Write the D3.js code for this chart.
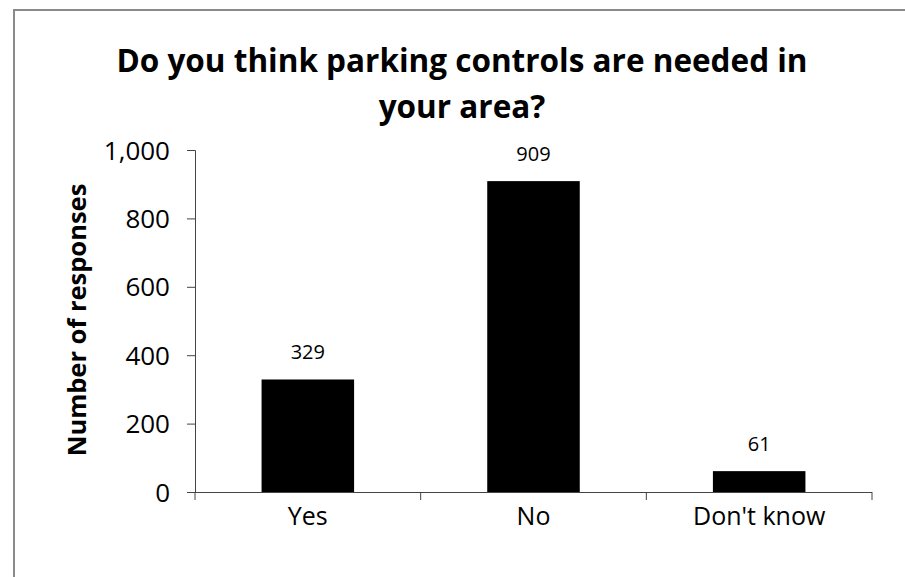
<!DOCTYPE html>
<html>
<head>
<meta charset="utf-8">
<script src="https://cdn.jsdelivr.net/npm/d3@7"></script>
<style>
  body { margin: 0; background: #fff; }
  text { font-family: "Open Sans", sans-serif; fill: #000; }
</style>
</head>
<body>
<div id="chart"></div>
<script>
var categories = ["Yes", "No", "Don't know"];
var responses = [329, 909, 61];
var yTicks = [0, 200, 400, 600, 800, 1000];

var W = 905, H = 577;
var margin = {top: 150, right: 33, bottom: 85, left: 195},
    width = W - margin.left - margin.right,
    height = H - margin.top - margin.bottom;

var svg = d3.select("#chart")
    .append("svg")
        .attr("width", W)
        .attr("height", H);

// outer chart border (only top and left are in frame)
svg.append("rect")
    .attr("x", 14).attr("y", 10)
    .attr("width", W + 20).attr("height", H + 20)
    .attr("fill", "none")
    .attr("stroke", "#8a8a8a")
    .attr("stroke-width", 2);

svg.append("text")
    .attr("x", 462).attr("y", 72)
    .attr("text-anchor", "middle")
    .style("font-size", "31.5px").style("font-weight", "bold")
    .text("Do you think parking controls are needed in");
svg.append("text")
    .attr("x", 462).attr("y", 118)
    .attr("text-anchor", "middle")
    .style("font-size", "31.5px").style("font-weight", "bold")
    .text("your area?");

var g = svg.append("g")
    .attr("transform", "translate(" + margin.left + "," + margin.top + ")");

var x = d3.scaleBand()
    .domain(categories)
    .range([0, width])
    .paddingInner(0.59)
    .paddingOuter(0.295);

var y = d3.scaleLinear()
    .domain([0, 1000])
    .range([height, 0]);

// y axis
var yAxis = g.append("g")
    .call(d3.axisLeft(y).tickValues(yTicks).tickFormat(d3.format(",")).tickSize(8).tickPadding(17));
yAxis.selectAll("text").style("font-size", "26px").attr("dy", "0.35em");
yAxis.selectAll("line, path").attr("stroke", "#444");
yAxis.select(".domain").attr("d", "M-8,0.5H0.5V" + (height + 0.5));

// x axis with ticks at category boundaries
var xAxis = g.append("g")
    .attr("transform", "translate(0," + height + ")");
xAxis.append("line")
    .attr("x1", 0).attr("x2", width)
    .attr("y1", 0.5).attr("y2", 0.5)
    .attr("stroke", "#444");
var step = x.step();
var start = x(categories[0]) - step * x.paddingOuter();
xAxis.selectAll(".bt")
    .data(d3.range(categories.length + 1))
    .join("line")
    .attr("x1", function(i) { return start + i * step; })
    .attr("x2", function(i) { return start + i * step; })
    .attr("y1", 0).attr("y2", 8)
    .attr("stroke", "#444");
xAxis.selectAll(".cat")
    .data(categories)
    .join("text")
    .attr("x", function(d) { return x(d) + x.bandwidth() / 2; })
    .attr("y", 33)
    .attr("text-anchor", "middle")
    .style("font-size", "25px")
    .text(function(d) { return d; });

// bars
g.selectAll(".bar")
    .data(categories)
    .join("rect")
    .attr("x", function(d) { return x(d); })
    .attr("y", function(d, i) { return y(responses[i]); })
    .attr("width", x.bandwidth())
    .attr("height", function(d, i) { return height - y(responses[i]); })
    .attr("fill", "#000");

// value labels
g.selectAll(".val")
    .data(categories)
    .join("text")
    .attr("x", function(d) { return x(d) + x.bandwidth() / 2; })
    .attr("y", function(d, i) { return y(responses[i]) - 20; })
    .attr("text-anchor", "middle")
    .style("font-size", "20px")
    .text(function(d, i) { return responses[i]; });

// y axis title
svg.append("text")
    .attr("transform", "translate(86,320) rotate(-90)")
    .attr("text-anchor", "middle")
    .style("font-size", "25.5px").style("font-weight", "bold")
    .text("Number of responses");
</script>
</body>
</html>
